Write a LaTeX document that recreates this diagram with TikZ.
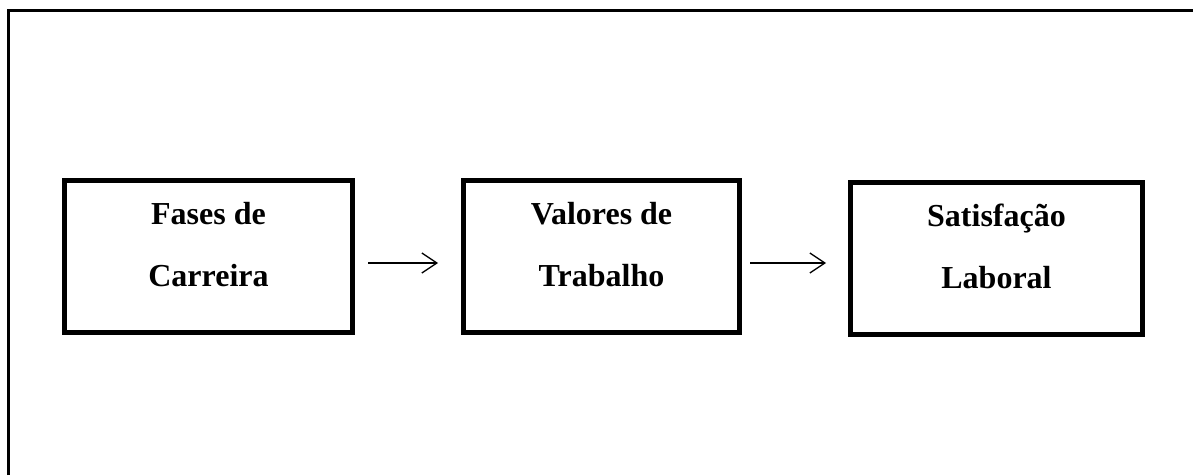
\documentclass[tikz,border=0pt]{standalone}
\usepackage{fontspec}
\setmainfont{Liberation Serif}
\usepackage{tikz}
\usetikzlibrary{positioning, arrows.meta}

\tikzset{
  fase/.style={draw, line width=5pt, minimum height=152pt},
  fasetxt/.style={align=center, font=\bfseries\fontsize{32}{62}\selectfont},
  flow/.style={line width=1.3pt, -{Straight Barb[length=15pt, width=20pt, line width=1.3pt]}}
}

\begin{document}
\begin{tikzpicture}[x=1pt, y=1pt]
\useasboundingbox (0,0) rectangle (1193,475);
\draw[line width=3pt] (8,0) -- (8,464) -- (1193,464);

\node[fase, minimum width=288pt] (F) at (208.5,218.5) {};
\node[fase, minimum width=276pt] (V) at (601.5,218.5) {};
\node[fase, minimum width=292pt] (S) at (996.5,216.5) {};

\node[fasetxt] (Ft) at ([yshift=12]F.center) {Fases de\\Carreira};
\node[fasetxt] (Vt) at ([yshift=12]V.center) {Valores de\\Trabalho};
\node[fasetxt] (St) at ([yshift=12]S.center) {Satisfação\\Laboral};

\draw[flow] ([xshift=13, yshift=-6.5]F.east) -- ([xshift=-23, yshift=-6.5]V.west);
\draw[flow] ([xshift=8, yshift=-6.5]V.east) -- ([xshift=-22, yshift=-4.5]S.west);
\end{tikzpicture}
\end{document}
